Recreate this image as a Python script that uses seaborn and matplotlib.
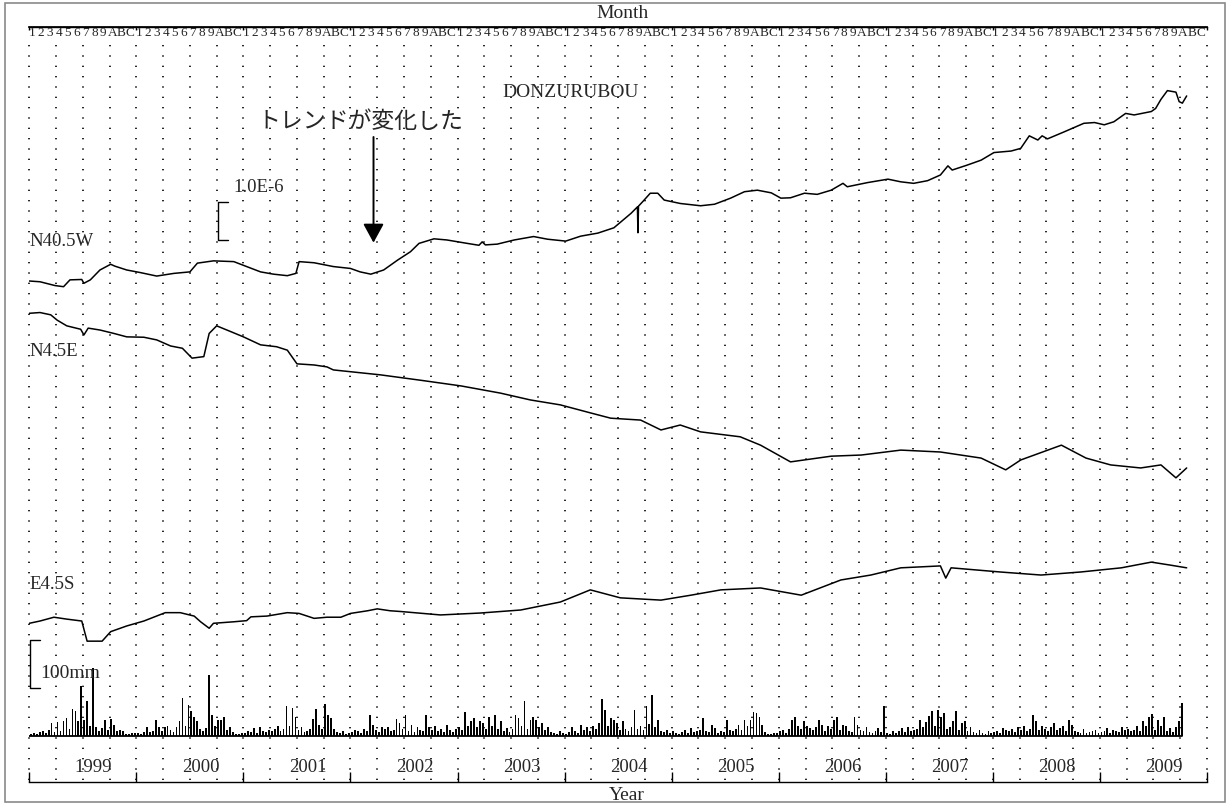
import numpy as np
import pandas as pd
import matplotlib
matplotlib.use("Agg")
import matplotlib.pyplot as plt
from matplotlib.patches import Rectangle
import seaborn as sns

# strain records, micro-strain relative to Jan 1999
n40_t = [1999.00, 1999.10, 1999.24, 1999.32, 1999.38, 1999.49, 1999.51, 1999.57, 1999.66, 1999.76,
         1999.80, 1999.91, 2000.04, 2000.19, 2000.35, 2000.50, 2000.57, 2000.72, 2000.91, 2001.03,
         2001.16, 2001.28, 2001.41, 2001.49, 2001.52, 2001.66, 2001.84, 2002.00, 2002.09, 2002.19,
         2002.31, 2002.44, 2002.56, 2002.64, 2002.78, 2002.90, 2003.09, 2003.20, 2003.23, 2003.26,
         2003.37, 2003.53, 2003.71, 2003.84, 2004.01, 2004.15, 2004.31, 2004.46, 2004.62, 2004.680,
         2004.685, 2004.690, 2004.73, 2004.80, 2004.87, 2004.93, 2005.08, 2005.27, 2005.40, 2005.55,
         2005.68, 2005.80, 2005.93, 2006.02, 2006.11, 2006.24, 2006.36, 2006.49, 2006.60, 2006.64,
         2006.83, 2007.02, 2007.14, 2007.26, 2007.39, 2007.51, 2007.58, 2007.62, 2007.76, 2007.89,
         2008.01, 2008.17, 2008.26, 2008.34, 2008.42, 2008.46, 2008.51, 2008.67, 2008.85, 2008.95,
         2009.04, 2009.13, 2009.24, 2009.32, 2009.48, 2009.52, 2009.57, 2009.63, 2009.71, 2009.74,
         2009.77, 2009.81]
n40_v = [0.00, -0.02, -0.12, -0.15, 0.03, 0.04, -0.06, 0.03, 0.29, 0.44,
         0.39, 0.29, 0.22, 0.13, 0.20, 0.24, 0.47, 0.53, 0.51, 0.38,
         0.24, 0.18, 0.14, 0.20, 0.51, 0.48, 0.38, 0.33, 0.24, 0.18,
         0.29, 0.55, 0.77, 0.99, 1.11, 1.08, 0.99, 0.94, 1.03, 0.95,
         0.97, 1.08, 1.17, 1.10, 1.05, 1.18, 1.26, 1.40, 1.78, 1.95,
         1.27, 1.97, 2.09, 2.31, 2.31, 2.13, 2.04, 1.98, 2.02, 2.18,
         2.35, 2.39, 2.32, 2.18, 2.19, 2.31, 2.28, 2.39, 2.57, 2.48,
         2.59, 2.68, 2.61, 2.57, 2.64, 2.79, 3.03, 2.92, 3.05, 3.18,
         3.38, 3.42, 3.49, 3.82, 3.71, 3.82, 3.74, 3.93, 4.15, 4.17,
         4.11, 4.19, 4.41, 4.37, 4.46, 4.54, 4.78, 5.01, 4.97, 4.72,
         4.68, 4.87]

n4_t = [1999.00, 1999.10, 1999.20, 1999.26, 1999.35, 1999.48, 1999.51, 1999.55, 1999.66, 1999.79,
        1999.91, 2000.07, 2000.19, 2000.32, 2000.43, 2000.52, 2000.63, 2000.68, 2000.75, 2000.88,
        2001.00, 2001.16, 2001.31, 2001.41, 2001.50, 2001.66, 2001.78, 2001.84, 2002.28, 2002.65,
        2003.03, 2003.40, 2003.68, 2003.96, 2004.24, 2004.43, 2004.71, 2004.90, 2005.08, 2005.27,
        2005.64, 2005.83, 2006.11, 2006.49, 2006.77, 2007.14, 2007.51, 2007.89, 2008.12, 2008.26,
        2008.64, 2008.87, 2009.10, 2009.38, 2009.57, 2009.71, 2009.81]
n4_v = [0.00, 0.02, -0.04, -0.18, -0.33, -0.42, -0.57, -0.39, -0.44, -0.53,
        -0.62, -0.63, -0.70, -0.86, -0.92, -1.18, -1.14, -0.53, -0.33, -0.48,
        -0.62, -0.83, -0.88, -0.97, -1.33, -1.36, -1.41, -1.49, -1.62, -1.76,
        -1.91, -2.10, -2.28, -2.41, -2.62, -2.76, -2.81, -3.07, -2.94, -3.12,
        -3.25, -3.47, -3.91, -3.76, -3.73, -3.60, -3.65, -3.81, -4.12, -3.86,
        -3.47, -3.81, -3.99, -4.07, -3.99, -4.33, -4.07]

e4_t = [1999.00, 1999.10, 1999.23, 1999.35, 1999.49, 1999.52, 1999.54, 1999.68, 1999.76, 1999.91,
        2000.07, 2000.27, 2000.41, 2000.54, 2000.60, 2000.68, 2000.72, 2000.91, 2001.03, 2001.07,
        2001.22, 2001.41, 2001.52, 2001.66, 2001.78, 2001.91, 2002.00, 2002.16, 2002.25, 2002.37,
        2002.47, 2002.84, 2003.21, 2003.59, 2003.96, 2004.24, 2004.52, 2004.90, 2005.18, 2005.46,
        2005.83, 2006.21, 2006.58, 2006.86, 2007.14, 2007.51, 2007.56, 2007.61, 2008.07, 2008.45,
        2008.82, 2009.20, 2009.48, 2009.66, 2009.81]
e4_v = [0.00, 0.06, 0.16, 0.11, 0.06, -0.26, -0.47, -0.47, -0.22, -0.07,
        0.06, 0.28, 0.28, 0.19, 0.04, -0.13, 0.00, 0.04, 0.07, 0.17,
        0.19, 0.28, 0.26, 0.13, 0.16, 0.16, 0.26, 0.33, 0.38, 0.33,
        0.31, 0.22, 0.27, 0.35, 0.56, 0.88, 0.67, 0.61, 0.74, 0.88,
        0.93, 0.74, 1.14, 1.27, 1.46, 1.51, 1.19, 1.46, 1.35, 1.27,
        1.35, 1.46, 1.61, 1.53, 1.46]

# precipitation, largest daily amount (mm) in each 10-day period
rain_1999 = [4, 6, 3, 8, 10, 6, 12, 26, 8, 28, 10, 30, 37, 15, 56, 51, 30, 103,
             33, 72, 20, 141, 18, 10, 16, 33, 12, 35, 23, 10, 12, 9, 4, 3, 5, 6]
rain_2000 = [6, 4, 7, 18, 8, 10, 33, 19, 10, 18, 21, 12, 8, 18, 30, 78, 20, 65,
             51, 40, 30, 14, 10, 16, 127, 44, 20, 33, 33, 40, 12, 19, 8, 4, 3, 6]
rain_2001 = [5, 10, 8, 16, 6, 18, 10, 8, 12, 9, 14, 21, 10, 15, 62, 20, 58, 40,
             12, 18, 8, 10, 14, 35, 56, 23, 15, 67, 44, 37, 15, 8, 6, 9, 4, 6]
rain_2002 = [8, 12, 10, 6, 14, 10, 44, 23, 12, 8, 18, 14, 18, 10, 12, 35, 26, 14,
             44, 10, 23, 8, 19, 12, 10, 44, 18, 12, 21, 10, 14, 8, 23, 12, 8, 15]
rain_2003 = [18, 12, 49, 20, 30, 37, 18, 30, 26, 14, 39, 20, 44, 15, 30, 10, 16, 8,
             14, 44, 37, 20, 73, 15, 33, 40, 33, 18, 26, 12, 19, 8, 6, 4, 9, 5]
rain_2004 = [4, 8, 19, 10, 6, 23, 12, 18, 10, 21, 14, 26, 76, 54, 20, 37, 33, 26,
             12, 30, 15, 10, 18, 53, 14, 20, 12, 62, 25, 85, 18, 33, 10, 8, 12, 5]
rain_2005 = [9, 6, 4, 8, 12, 6, 16, 8, 10, 12, 37, 10, 8, 23, 16, 6, 10, 8,
             33, 12, 10, 14, 23, 12, 33, 20, 33, 49, 47, 40, 23, 8, 4, 3, 6, 5]
rain_2006 = [9, 12, 6, 14, 33, 40, 20, 14, 30, 21, 16, 12, 18, 33, 23, 10, 21, 14,
             33, 40, 12, 23, 21, 10, 8, 40, 23, 12, 10, 18, 8, 6, 10, 16, 8, 62]
rain_2007 = [5, 4, 9, 6, 10, 16, 8, 18, 10, 12, 14, 33, 18, 28, 42, 51, 20, 53,
             40, 47, 14, 18, 30, 51, 12, 26, 30, 10, 19, 8, 6, 12, 5, 4, 9, 6]
rain_2008 = [8, 10, 6, 16, 12, 10, 14, 8, 18, 12, 20, 10, 15, 44, 30, 12, 21, 14,
             10, 18, 26, 12, 16, 20, 10, 33, 23, 10, 8, 6, 14, 5, 8, 10, 12, 6]
rain_2009 = [8, 10, 16, 6, 12, 10, 8, 18, 12, 14, 10, 12, 21, 10, 30, 20, 40, 46,
             12, 33, 20, 40, 10, 16, 8, 18, 30, 68]

years = list(range(1999, 2010))
month_labels = ["1", "2", "3", "4", "5", "6", "7", "8", "9", "A", "B", "C"]
trace_names = ["N40.5W", "N4.5E", "E4.5S"]

# layout (axis units are pixels of the original 1230x805 chart)
PX_STRAIN = 38.0      # 1.0E-6 strain
PX_MM = 0.48          # 1 mm of rain
base_n40, base_n4, base_e4 = 501.0, 468.7, 158.7
rain_base = 46.3

sns.set_theme(style="white")
plt.rcParams["font.family"] = ["Liberation Serif", "Noto Sans CJK JP", "DejaVu Sans"]

fig = plt.figure(figsize=(12.3, 8.05), dpi=100)
ax = fig.add_axes([29.3 / 1230, 23 / 805, 1177.7 / 1230, 755 / 805])
ax.set_xlim(1999, 2010)
ax.set_ylim(0, 755)

# quarterly dotted guides
quarters = np.arange(1999, 2010.001, 0.25)
ax.vlines(quarters, 1.6, 740.5, colors="black", linewidth=1.2,
          linestyles=[(0, (0.8, 5.4))], clip_on=False, zorder=0)

# strain traces
for t, v, base in [(n40_t, n40_v, base_n40), (n4_t, n4_v, base_n4), (e4_t, e4_v, base_e4)]:
    df = pd.DataFrame({"t": t, "y": base + np.array(v) * PX_STRAIN})
    sns.lineplot(data=df, x="t", y="y", ax=ax, color="black", linewidth=1.1,
                 estimator=None, sort=False)

# precipitation bars
rain = np.array(rain_1999 + rain_2000 + rain_2001 + rain_2002 + rain_2003 + rain_2004
                + rain_2005 + rain_2006 + rain_2007 + rain_2008 + rain_2009, dtype=float)
rain_t = 1999 + (np.arange(len(rain)) + 0.5) / 36
ax.bar(rain_t, rain * PX_MM, bottom=rain_base, width=0.6 / 36, color="black", linewidth=0)
ax.plot([1999, rain_t[-1]], [rain_base, rain_base], color="black", linewidth=1.3)

# trace labels
lab_fs = 13.5
ax.text(1999.0, 536, trace_names[0], fontsize=lab_fs, ha="left", va="baseline")
ax.text(1999.0, 426, trace_names[1], fontsize=lab_fs, ha="left", va="baseline")
ax.text(1999.0, 192.7, trace_names[2], fontsize=lab_fs, ha="left", va="baseline")
ax.text(2003.42, 684.7, "DONZURUBOU", fontsize=14, ha="left", va="baseline")

# scale bars
sx = 2000.76
dx = 10 / 107.06
y0 = 542.0
ax.plot([sx + dx, sx, sx, sx + dx], [y0, y0, y0 + PX_STRAIN, y0 + PX_STRAIN],
        color="black", linewidth=1.0, clip_on=False)
ax.text(2000.91, 590, "1.0E-6", fontsize=13.5, ha="left", va="baseline")

rx = 1999.007
ry = 94.3
ax.plot([rx + dx, rx, rx, rx + dx], [ry, ry, ry + 100 * PX_MM, ry + 100 * PX_MM],
        color="black", linewidth=1.0, clip_on=False)
ax.text(1999.10, 104, "100mm", fontsize=14, ha="left", va="baseline")

# annotation
ax.text(2002.09, 661, "トレンドが変化した", fontsize=16.5, ha="center", va="center",
        family=["Noto Sans CJK JP", "DejaVu Sans"])
ax.annotate("", xy=(2002.215, 539.3), xytext=(2002.215, 645),
            arrowprops=dict(arrowstyle="-|>,head_length=0.55,head_width=0.3",
                            color="black", lw=1.4, mutation_scale=21,
                            shrinkA=0, shrinkB=0))

# axes: bottom year ticks, top month row
ax.set_xlabel("")
ax.set_ylabel("")
for side in ["left", "right"]:
    ax.spines[side].set_visible(False)
for side in ["top", "bottom"]:
    ax.spines[side].set_color("black")
    ax.spines[side].set_linewidth(1.0)
ax.set_yticks([])
ax.set_xticks(list(range(1999, 2011)))
ax.set_xticklabels([])
ax.tick_params(axis="x", which="major", direction="in", length=7.2, width=1.0,
               color="black", bottom=True, top=False)
sec = ax.secondary_xaxis("top")
sec.set_xticks(list(range(1999, 2011)))
sec.set_xticklabels([])
sec.tick_params(direction="in", length=2.2, width=1.0, color="black")
sec.spines["top"].set_color("black")

for yr in years:
    ax.text(yr + 0.6, 10, str(yr), fontsize=13.5, ha="center", va="baseline")
    for m, lab in enumerate(month_labels):
        ax.text(yr + (m + 0.3) / 12, 749.5, lab, fontsize=9.5, ha="center", va="center")

fig.text(623 / 1230, (805 - 18.3) / 805, "Month", fontsize=14, ha="center", va="baseline")
fig.text(627 / 1230, (805 - 800) / 805, "Year", fontsize=14, ha="center", va="baseline")

fig.add_artist(Rectangle((5 / 1230, 3 / 805), 1220 / 1230, 799 / 805,
                         transform=fig.transFigure, fill=False,
                         edgecolor="#8a8a8a", linewidth=1.2))

fig.savefig("out.png", dpi=100)
